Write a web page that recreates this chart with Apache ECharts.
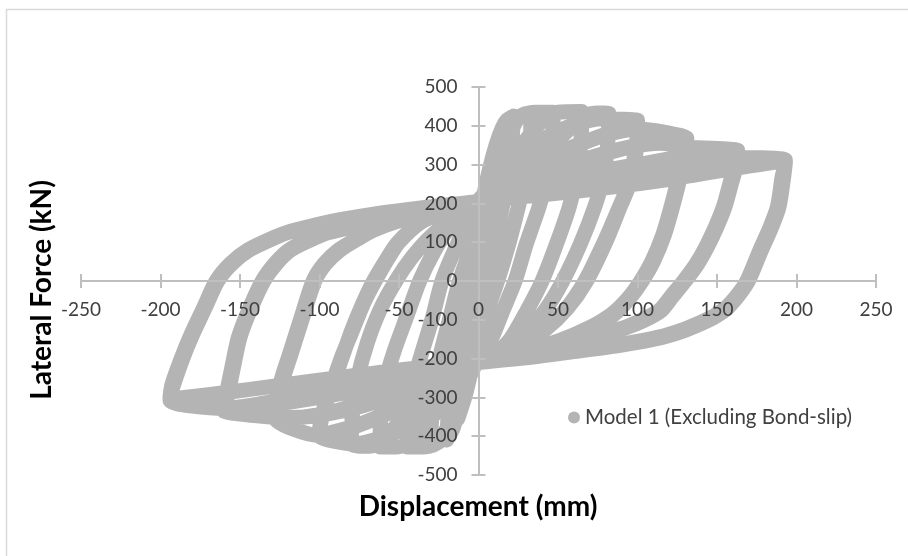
<!DOCTYPE html>
<html>
<head>
<meta charset="utf-8">
<script src="https://cdn.jsdelivr.net/npm/echarts@6/dist/echarts.min.js"></script>
<style>
  html, body { margin: 0; padding: 0; background: #ffffff; }
  #chart { width: 908px; height: 556px; }
</style>
</head>
<body>
<div id="chart"></div>
<script>
// Axis ranges and tick spacing
const xMin = -250, xMax = 250, xStep = 50;
const yMin = -500, yMax = 500, yStep = 100;

const seriesName = 'Model 1 (Excluding Bond-slip)';

// Hysteresis response, one array per loading cycle: [displacement (mm), lateral force (kN)]
const cycle01 = [[0,0],[2,90],[4,170],[6,235],[5,190],[3.5,110],[2,30],[0,-60],[-2,-120],[-4,-180],[-6,-230],[-5,-185],[-3.5,-100],[-2,-20],[0,80]];
const cycle02 = [[0,80],[4,190],[8,280],[11,330],[13,360],[12,320],[10,250],[8,170],[6,90],[4,10],[2,-70],[0,-140],[-4,-220],[-8,-290],[-11,-330],[-13,-355],[-12,-310],[-10,-240],[-8,-160],[-6,-80],[-4,0],[-2,80],[0,150]];
const cycle03 = [[0,150],[3,215],[7,290],[11,350],[15,395],[18,415],[22,425],[21,360],[18,260],[15,190],[10,95],[5,0],[0,-75],[-3,-130],[-5,-170],[-8,-250],[-12,-320],[-16,-380],[-20,-410],[-19,-340],[-17,-260],[-15,-190],[-10,-95],[-5,0],[0,75],[3,130],[5,170]];
const cycle04 = [[5,170],[10,250],[15,320],[20,380],[25,420],[30,432],[33,432],[33,420],[32,340],[29,260],[25,190],[19,95],[12,0],[6,-70],[0,-140],[-5,-200],[-10,-270],[-15,-330],[-20,-380],[-25,-415],[-30,-422],[-30,-410],[-29,-330],[-27,-260],[-24,-190],[-18,-95],[-12,0],[-6,70],[0,140],[4,200]];
const cycle05 = [[4,200],[10,280],[16,350],[22,405],[28,428],[36,435],[47,435],[47,425],[46,345],[43,265],[38,190],[30,95],[23,0],[15,-80],[8,-150],[0,-200],[-7,-260],[-14,-330],[-20,-385],[-27,-420],[-35,-428],[-45,-428],[-45,-415],[-44,-335],[-41,-260],[-36,-190],[-29,-95],[-23,0],[-15,80],[-7,150],[0,200]];
const cycle06 = [[0,200],[10,255],[22,320],[33,380],[42,420],[50,435],[65,437],[65,425],[64,340],[61,260],[57,190],[49,95],[40,0],[30,-80],[20,-150],[10,-190],[0,-207],[-12,-265],[-25,-330],[-36,-385],[-45,-420],[-52,-428],[-62,-428],[-62,-415],[-61,-330],[-58,-250],[-53,-180],[-45,-90],[-37,0],[-28,75],[-18,140],[-8,180],[0,203]];
const cycle07 = [[0,203],[15,250],[30,295],[45,345],[58,395],[66,425],[75,433],[82,432],[82,420],[81,340],[78,260],[73,190],[64,95],[53,0],[42,-75],[30,-135],[15,-185],[0,-207],[-15,-250],[-30,-295],[-45,-345],[-57,-395],[-64,-422],[-72,-426],[-80,-422],[-80,-410],[-79,-330],[-76,-250],[-70,-160],[-62,-75],[-52,0],[-42,60],[-30,115],[-15,165],[0,203]];
const cycle08a = [[0,205],[12,250],[28,320],[45,375],[62,405],[78,418],[100,414],[100,405],[99,330],[95,250],[89,190],[80,100],[68,0],[56,-70],[42,-125],[25,-170],[10,-200],[0,-210],[-12,-250],[-28,-320],[-45,-375],[-62,-405],[-78,-420],[-100,-400],[-100,-390],[-97,-330],[-92,-270],[-86,-200],[-80,-130],[-73,-60],[-66,0],[-58,55],[-51,98],[-37,150],[-20,180],[0,205]];
const cycle08b = [[0,205],[20,255],[40,310],[63,352],[85,385],[100,400],[100,392],[98,320],[94,245],[88,185],[79,100],[67,0],[55,-72],[41,-128],[24,-172],[10,-200],[0,-210],[-20,-255],[-40,-310],[-63,-352],[-85,-385],[-100,-395],[-100,-385],[-97,-325],[-92,-265],[-86,-195],[-79,-125],[-72,-55],[-65,0],[-57,57],[-50,100],[-36,152],[-20,182],[0,205]];
const cycle09a = [[0,205],[15,240],[35,290],[55,335],[75,370],[92,388],[100,392],[131,368],[131,362],[129,320],[125,253],[121,190],[116,120],[109,50],[102,0],[94,-45],[84,-85],[70,-120],[50,-155],[25,-185],[0,-208],[-15,-240],[-35,-290],[-55,-335],[-75,-370],[-92,-390],[-101,-398],[-128,-355],[-128,-345],[-126,-300],[-122,-240],[-118,-190],[-111,-100],[-103,0],[-96,45],[-87,80],[-76,108],[-66,131],[-50,155],[-25,182],[0,205]];
const cycle09b = [[0,205],[25,245],[50,290],[80,330],[108,355],[131,362],[130,320],[126,253],[122,190],[117,120],[110,50],[103,0],[95,-45],[85,-87],[71,-122],[50,-157],[25,-187],[0,-208],[-25,-245],[-50,-290],[-80,-330],[-108,-350],[-128,-352],[-127,-300],[-123,-240],[-119,-190],[-112,-100],[-104,0],[-97,45],[-88,80],[-77,108],[-66,132],[-50,156],[-25,183],[0,205]];
const cycle10a = [[0,205],[20,235],[45,275],[70,315],[95,345],[115,355],[133,345],[163,337],[163,332],[161,295],[158,250],[154,191],[149,140],[143,88],[137,45],[129,0],[121,-40],[114,-75],[103,-100],[93,-118],[70,-145],[40,-175],[15,-198],[0,-208],[-20,-235],[-45,-275],[-70,-310],[-95,-340],[-115,-352],[-133,-350],[-160,-335],[-160,-328],[-158,-300],[-154,-220],[-150,-145],[-143,-70],[-135,0],[-127,45],[-118,80],[-106,105],[-95,124],[-76,142],[-55,160],[-30,180],[0,205]];
const cycle10b = [[0,205],[30,240],[60,270],[100,300],[135,325],[163,333],[162,295],[159,250],[155,191],[150,140],[144,88],[138,45],[130,0],[122,-40],[115,-76],[104,-102],[93,-120],[70,-147],[40,-177],[15,-200],[0,-208],[-30,-240],[-60,-270],[-100,-300],[-135,-322],[-160,-332],[-159,-300],[-155,-220],[-151,-145],[-144,-70],[-136,0],[-128,45],[-119,80],[-107,106],[-95,125],[-76,143],[-55,161],[-30,181],[0,205]];
const cycle11a = [[0,205],[40,222],[80,240],[120,262],[160,290],[185,305],[193,310],[193,305],[191,270],[188,191],[183,135],[177,80],[169,2],[163,-35],[156,-67],[148,-90],[139,-108],[127,-128],[114,-144],[90,-163],[60,-180],[30,-196],[0,-210],[-40,-225],[-80,-245],[-123,-268],[-160,-288],[-185,-300],[-194,-305],[-194,-298],[-192,-270],[-186,-200],[-180,-140],[-172,-70],[-164,0],[-155,45],[-144,80],[-130,108],[-119,126],[-100,146],[-87,157],[-65,172],[-45,183],[-20,195],[0,205]];
const cycle11b = [[0,205],[30,228],[60,255],[100,282],[140,302],[166,318],[193,312],[192,270],[189,191],[184,135],[178,80],[170,2],[164,-35],[157,-68],[149,-92],[140,-110],[128,-130],[115,-146],[90,-165],[60,-182],[30,-198],[0,-210],[-30,-235],[-60,-262],[-100,-290],[-135,-315],[-160,-328],[-194,-308],[-193,-270],[-187,-200],[-181,-140],[-173,-70],[-165,0],[-156,45],[-145,80],[-131,108],[-119,127],[-100,147],[-87,158],[-65,173],[-45,184],[-20,196],[0,205]];

const cycles = [cycle01, cycle02, cycle03, cycle04, cycle05, cycle06, cycle07,
                cycle08a, cycle08b, cycle09a, cycle09b, cycle10a, cycle10b, cycle11a, cycle11b];
const history = [].concat(...cycles);

const markColor = '#b4b4b4';
const axisColor = '#bfbfbf';
const textColor = '#404040';
const fontFamily = 'Lato, "Open Sans", sans-serif';

// Plot area in pixels; the axes cross at the origin, in the middle of it
const plot = { left: 81, right: 32, top: 87, bottom: 81, width: 795, height: 388 };
const xCross = -plot.height / 2;
const yCross = -plot.width / 2;

const chart = echarts.init(document.getElementById('chart'), null, { renderer: 'canvas' });

function valueAxis(min, max, step, position, offset, showLabels, margin) {
  return {
    type: 'value',
    min: min, max: max, interval: step,
    position: position,
    offset: offset,
    z: 5,
    axisLine: { show: true, onZero: false, lineStyle: { color: axisColor, width: 2 } },
    axisTick: { show: true, length: 7, lineStyle: { color: axisColor, width: 2 } },
    splitLine: { show: false },
    axisLabel: {
      show: showLabels, margin: margin,
      color: textColor, fontFamily: fontFamily, fontSize: 19
    }
  };
}

chart.setOption({
  animation: false,
  backgroundColor: '#ffffff',
  grid: { left: plot.left, right: plot.right, top: plot.top, bottom: plot.bottom, containLabel: false },
  xAxis: [
    valueAxis(xMin, xMax, xStep, 'bottom', xCross, true, 19),
    valueAxis(xMin, xMax, xStep, 'top', xCross, false, 8)
  ],
  yAxis: [
    valueAxis(yMin, yMax, yStep, 'left', yCross, true, 21),
    valueAxis(yMin, yMax, yStep, 'right', yCross, false, 8)
  ],
  legend: {
    data: [{ name: seriesName, icon: 'circle' }],
    left: 563, top: 402,
    itemWidth: 12, itemHeight: 12, itemGap: 6,
    textStyle: { color: textColor, fontFamily: fontFamily, fontSize: 20.5 }
  },
  graphic: [
    { type: 'rect', silent: true, z: -10,
      shape: { x: 6.5, y: 9.5, width: 1200, height: 1000 },
      style: { fill: '#ffffff', stroke: '#d9d9d9', lineWidth: 1.5 } },
    { type: 'text', x: 478, y: 507, silent: true,
      style: { text: 'Displacement (mm)', fill: '#000000', font: 'bold 28px Lato, "Open Sans", sans-serif', align: 'center', verticalAlign: 'middle' } },
    { type: 'text', x: 42, y: 290, rotation: Math.PI / 2, silent: true,
      style: { text: 'Lateral Force (kN)', fill: '#000000', font: 'bold 28px Lato, "Open Sans", sans-serif', align: 'center', verticalAlign: 'middle' } }
  ],
  series: [{
    name: seriesName,
    type: 'line',
    data: history,
    showSymbol: false,
    symbol: 'circle',
    smooth: 0.25,
    color: markColor,
    itemStyle: { color: markColor },
    lineStyle: { color: markColor, width: 15, cap: 'round', join: 'round' },
    z: 2
  }]
});
</script>
</body>
</html>
